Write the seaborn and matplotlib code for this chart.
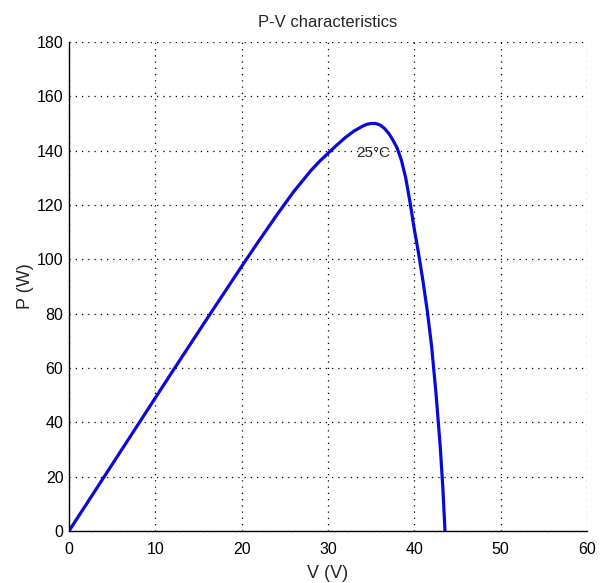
import numpy as np
import pandas as pd
import matplotlib
matplotlib.use("Agg")
import matplotlib.pyplot as plt
import seaborn as sns

# P-V curve (25°C)
voltage = [0, 2, 4, 6, 8, 10, 12, 14, 16, 18, 20, 22, 24, 26, 28, 29, 30,
           31, 32, 33, 34, 34.5, 35, 35.5, 36, 36.5, 37, 37.5, 38, 38.5, 39,
           39.5, 40, 40.5, 41, 41.5, 42, 42.5, 43, 43.3, 43.55]
power = [0, 9.8, 19.6, 29.4, 39.2, 49, 58.8, 68.5, 78.2, 87.8, 97.4, 106.8,
         116, 124.8, 132.6, 136, 139, 142, 144.8, 147.2, 149, 149.7, 150,
         150, 149.5, 148.3, 146.5, 144, 141, 136.5, 130, 121, 111, 102, 92,
         81, 68, 51, 31, 16, 0]
x_ticks = [0, 10, 20, 30, 40, 50, 60]
y_ticks = [0, 20, 40, 60, 80, 100, 120, 140, 160, 180]
curve_label = "25°C"

sns.set_style("white")
plt.rcParams["font.family"] = ["Liberation Sans", "DejaVu Sans"]

df = pd.DataFrame({"V": voltage, "P": power})

fig = plt.figure(figsize=(6.03, 5.83), dpi=100)
ax = fig.add_axes([0.1144, 0.0892, 0.8591, 0.8388])
sns.lineplot(data=df, x="V", y="P", ax=ax, sort=False, estimator=None,
             color="#0a0ad8", linewidth=2.3)

ax.set_xlim(0, 60)
ax.set_ylim(0, 180)
ax.set_xticks(x_ticks)
ax.set_yticks(y_ticks)
ax.grid(True, color="black", linestyle=(0, (1, 4)), linewidth=0.9)
for s in ["top", "right"]:
    ax.spines[s].set_visible(False)
for s in ["left", "bottom"]:
    ax.spines[s].set_color("black")
    ax.spines[s].set_linewidth(1.0)
ax.tick_params(direction="in", length=5, width=1, colors="black",
               labelsize=11.5, top=False, right=False)
ax.tick_params(axis="x", pad=8)
ax.tick_params(axis="y", pad=4)

ax.set_title("P-V characteristics", fontsize=12, pad=11)
ax.set_xlabel("V (V)", fontsize=13, labelpad=6)
ax.set_ylabel("P (W)", fontsize=13, labelpad=2)
ax.text(35.2, 139, curve_label, fontsize=11, ha="center", va="center")

fig.savefig("out.png", dpi=100)
